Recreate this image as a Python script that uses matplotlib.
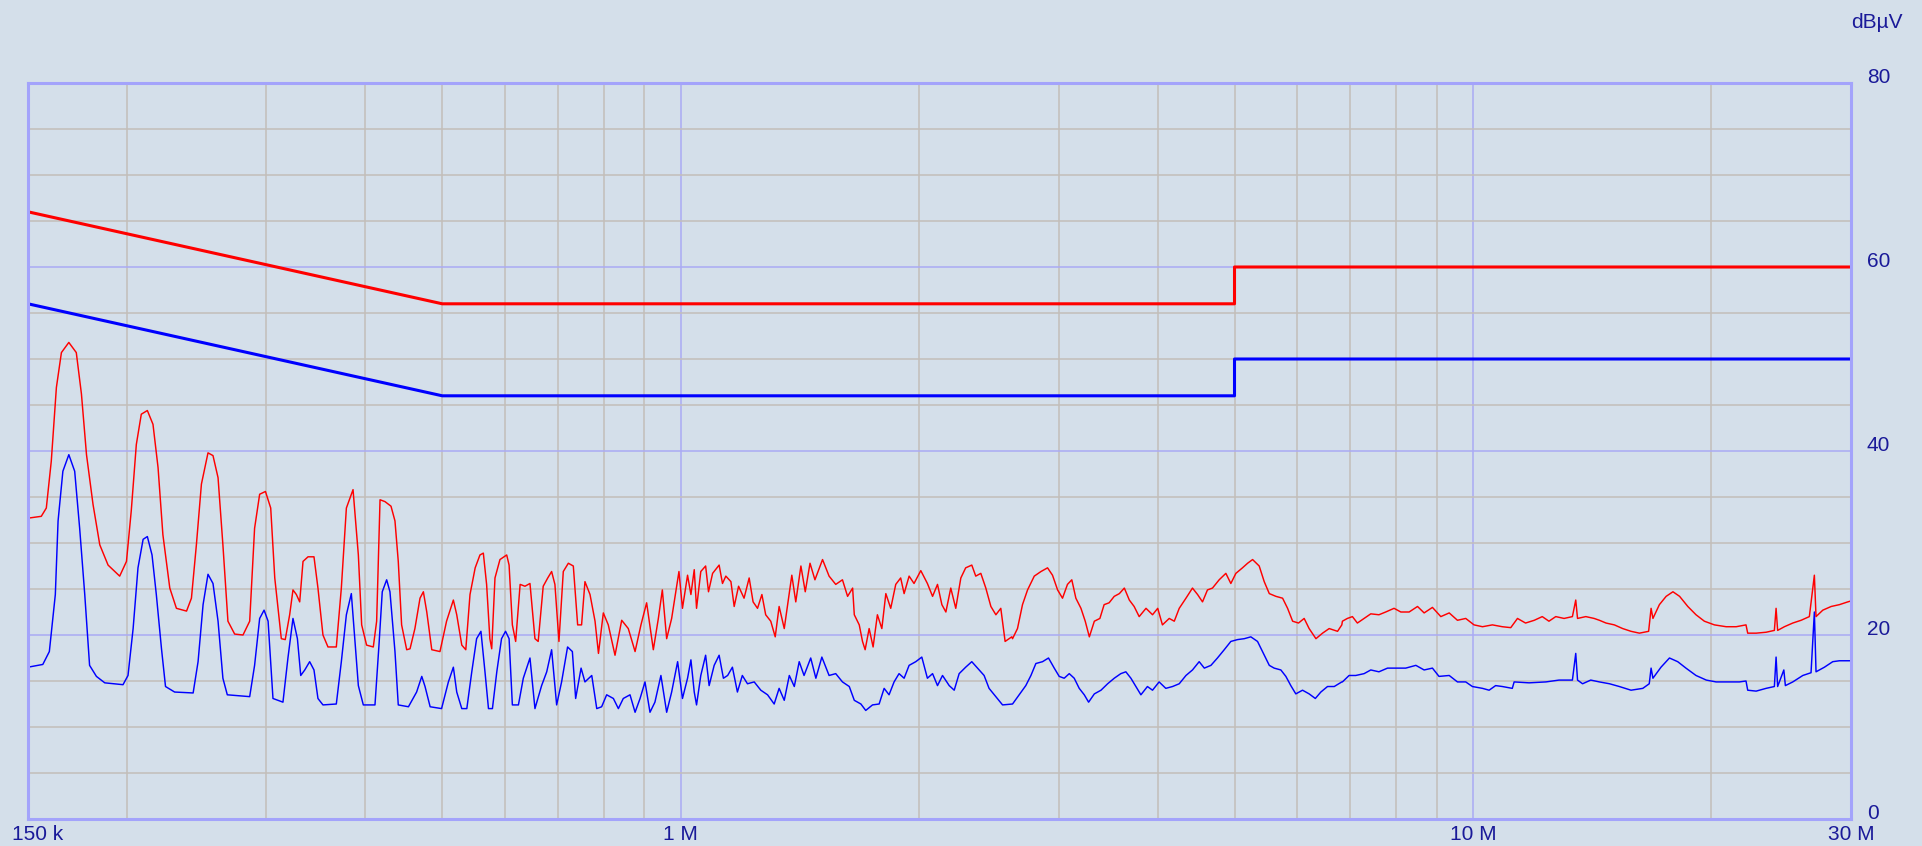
import matplotlib
matplotlib.use('Agg')
import matplotlib.pyplot as plt
import matplotlib.transforms as mtransforms

plt.rcParams['font.family'] = ['Liberation Sans', 'DejaVu Sans']

# limit lines (MHz / dBuV)
limit_freq = [0.15, 0.5, 5.0, 5.0, 30.0]
qp_limit = [66, 56, 56, 60, 60]
av_limit = [56, 46, 46, 50, 50]

# red trace (peak / QP)
peak_freq = [
    0.150, 0.1559, 0.1582, 0.1605, 0.1629, 0.1653, 0.1689, 0.1726, 0.1752, 0.1778,
    0.1812, 0.1848, 0.1893, 0.1958, 0.1997, 0.2025, 0.2055, 0.2085, 0.2122, 0.2157,
    0.2189, 0.2220, 0.2265, 0.2309, 0.2378, 0.2412, 0.2447, 0.2483, 0.2531, 0.2568,
    0.2606, 0.2643, 0.2682, 0.2735, 0.2802, 0.2857, 0.2898, 0.2941, 0.2991, 0.3037,
    0.3073, 0.3132, 0.3168, 0.3209, 0.3240, 0.3272, 0.3304, 0.3336, 0.3385, 0.3444,
    0.3484, 0.3535, 0.3587, 0.3675, 0.3729, 0.3784, 0.3858,
    0.3918, 0.3956, 0.4013, 0.4092, 0.4132, 0.4173, 0.4233, 0.4308, 0.4358, 0.4400,
    0.4443, 0.4509, 0.4553, 0.4618, 0.4687, 0.4733, 0.4780, 0.4850, 0.4967, 0.5063,
    0.5164, 0.5215, 0.5292, 0.5354, 0.5420, 0.5502, 0.5579, 0.5634, 0.5688, 0.5742,
    0.5773, 0.5828, 0.5913, 0.6030, 0.6072, 0.6130, 0.6189, 0.6270, 0.6359, 0.6452,
    0.6546, 0.6608, 0.6705, 0.6794, 0.6871, 0.6937, 0.7019, 0.7108, 0.7213, 0.7318,
    0.7411, 0.7496, 0.7570, 0.7682, 0.7795, 0.7873, 0.7985, 0.8101, 0.8261, 0.8423,
    0.8586, 0.8757, 0.8908, 0.9056, 0.9234, 0.9370, 0.9479, 0.9599, 0.9739, 0.9948,
    1.005, 1.020, 1.030, 1.040, 1.047, 1.060, 1.075, 1.084, 1.097, 1.118,
    1.129, 1.140, 1.157, 1.168, 1.183, 1.202, 1.220, 1.234, 1.250, 1.266,
    1.280, 1.299, 1.316, 1.331, 1.351, 1.368, 1.381, 1.397, 1.418, 1.436,
    1.456, 1.477, 1.510, 1.539, 1.569, 1.600, 1.624, 1.648, 1.656, 1.680,
    1.696, 1.709, 1.729, 1.749, 1.771, 1.794, 1.815, 1.841, 1.868, 1.895,
    1.914, 1.942, 1.970, 2.009, 2.048, 2.079, 2.109, 2.136, 2.161, 2.192,
    2.224, 2.257, 2.289, 2.330, 2.357, 2.392, 2.427, 2.463, 2.499, 2.535,
    2.567, 2.617,
    2.623, 2.661, 2.700, 2.740, 2.794, 2.849, 2.904, 2.946, 2.990, 3.033,
    3.077, 3.116, 3.153, 3.200, 3.240, 3.279, 3.327, 3.381, 3.423, 3.473,
    3.525, 3.578, 3.630, 3.683, 3.735, 3.790, 3.866, 3.940, 4.000, 4.055,
    4.136, 4.197, 4.258, 4.342, 4.425, 4.491, 4.556, 4.622, 4.690, 4.782,
    4.876, 4.947, 5.020, 5.117, 5.194, 5.270, 5.372, 5.451, 5.532, 5.640,
    5.750, 5.834, 5.920, 6.022, 6.122, 6.211, 6.335, 6.458, 6.584, 6.746,
    6.830,
    6.842, 6.941, 7.044, 7.146, 7.287, 7.430, 7.608, 7.759, 7.950, 8.108,
    8.306, 8.511, 8.676, 8.888, 9.107, 9.332, 9.558, 9.791, 10.03, 10.28,
    10.58, 10.89, 11.16, 11.38, 11.65, 11.95, 12.23, 12.47, 12.72, 13.03,
    13.35, 13.48, 13.55, 13.88, 14.22,
    14.44, 14.72, 15.08, 15.45, 15.83, 16.22, 16.66, 16.78, 16.87, 17.19,
    17.53, 17.88, 18.23, 18.67, 19.12, 19.59, 20.17, 20.87, 21.49, 22.11,
    22.22, 22.77, 23.44, 24.01, 24.13, 24.24, 24.72, 25.33, 25.95, 26.58,
    26.97, 27.10, 27.64, 28.32, 29.01, 29.72, 30.0,
]
peak_level = [
    32.7, 32.9, 33.8, 38.9, 46.9, 50.7, 51.8, 50.7, 46.2, 39.6,
    34.2, 29.8, 27.6, 26.4, 28.0, 33.5, 40.7, 44.0, 44.4, 42.9,
    38.2, 30.9, 25.1, 22.9, 22.6, 24.0, 29.8, 36.4, 39.8, 39.5,
    37.1, 29.8, 21.5, 20.1, 20.0, 21.5, 31.6, 35.3, 35.6, 33.8,
    26.2, 19.6, 19.5, 22.2, 24.9, 24.4, 23.6, 28.0, 28.5, 28.5,
    25.1, 20.0, 18.7, 18.7, 25.1, 33.8, 35.8,
    28.7, 21.1, 18.9, 18.7, 21.5, 34.7, 34.5, 34.0, 32.4, 28.0,
    21.1, 18.4, 18.5, 20.7, 24.0, 24.7, 22.5, 18.4, 18.2, 21.5,
    23.8, 22.2, 18.9, 18.4, 24.4, 27.3, 28.7, 28.9, 25.5, 19.6,
    18.5, 26.2, 28.2, 28.7, 27.6, 21.1, 19.3, 25.5, 25.3, 25.6,
    19.6, 19.3, 25.3, 26.2, 26.9, 25.5, 19.3, 26.9, 27.8, 27.5,
    21.1, 21.1, 25.8, 24.4, 21.5, 18.0, 22.4, 21.1, 17.8, 21.6,
    20.7, 18.2, 21.1, 23.5, 18.4, 21.8, 24.9, 19.6, 21.8, 26.9,
    22.9, 26.5, 24.4, 27.1, 22.9, 26.9, 27.5, 24.7, 26.7, 27.6,
    25.6, 26.4, 25.8, 23.1, 25.3, 24.0, 26.2, 23.6, 22.9, 24.4,
    22.2, 21.5, 19.8, 23.1, 20.7, 24.0, 26.5, 23.6, 27.5, 24.7,
    27.8, 26.0, 28.2, 26.4, 25.5, 26.0, 24.2, 25.1, 22.2, 21.1,
    19.3, 18.4, 20.7, 18.7, 22.2, 20.7, 24.5, 22.9, 25.5, 26.2,
    24.5, 26.4, 25.6, 27.0, 25.6, 24.2, 25.5, 23.3, 22.5, 25.1,
    22.9, 26.2, 27.3, 27.6, 26.4, 26.7, 25.1, 23.1, 22.2, 22.9,
    19.3, 19.8,
    19.6, 20.7, 23.3, 24.9, 26.4, 26.9, 27.3, 26.5, 24.9, 24.0,
    25.5, 26.0, 24.0, 22.9, 21.5, 19.8, 21.5, 21.8, 23.3, 23.5,
    24.2, 24.5, 25.1, 23.8, 23.1, 22.0, 22.9, 22.2, 22.9, 21.1,
    21.8, 21.5, 22.9, 24.0, 25.1, 24.4, 23.6, 24.9, 25.1, 26.0,
    26.7, 25.6, 26.7, 27.3, 27.8, 28.2, 27.5, 25.8, 24.5, 24.2,
    24.0, 22.9, 21.5, 21.3, 21.8, 20.7, 19.6, 20.2, 20.7, 20.4,
    21.1,
    21.5, 21.8, 22.0, 21.3, 21.8, 22.3, 22.2, 22.5, 22.9, 22.5,
    22.5, 23.1, 22.4, 23.0, 22.0, 22.4, 21.6, 21.8, 21.1, 20.9,
    21.1, 20.9, 20.8, 21.8, 21.3, 21.6, 22.0, 21.5, 22.0, 21.8,
    22.0, 23.8, 21.8, 22.0, 21.8,
    21.6, 21.3, 21.1, 20.7, 20.4, 20.2, 20.4, 22.9, 21.8, 23.3,
    24.2, 24.7, 24.2, 23.1, 22.2, 21.5, 21.1, 20.9, 20.9, 21.1,
    20.2, 20.2, 20.3, 20.5, 22.9, 20.5, 20.9, 21.3, 21.6, 22.0,
    26.5, 22.0, 22.7, 23.1, 23.3, 23.6, 23.7,
]

# blue trace (average)
avg_freq = [
    0.150, 0.1566, 0.1596, 0.1624, 0.1637, 0.1660, 0.1689, 0.1718, 0.1743, 0.1769,
    0.1794, 0.1830, 0.1875, 0.1977, 0.2006, 0.2036, 0.2065, 0.2096, 0.2122, 0.2151,
    0.2178, 0.2211, 0.2237, 0.2297, 0.2424, 0.2459, 0.2495, 0.2531, 0.2568, 0.2606,
    0.2643, 0.2677, 0.2857, 0.2898, 0.2941, 0.2979, 0.3014, 0.3057, 0.3147, 0.3193,
    0.3240, 0.3282, 0.3314, 0.3353, 0.3401, 0.3444, 0.3484, 0.3535, 0.3675, 0.3729,
    0.3784, 0.3839,
    0.3918, 0.3975, 0.4112, 0.4160, 0.4200, 0.4254, 0.4295, 0.4358, 0.4400, 0.4532,
    0.4641, 0.4711, 0.4756, 0.4827, 0.4990, 0.5090, 0.5164, 0.5215, 0.5292, 0.5370,
    0.5448, 0.5525, 0.5595, 0.5661, 0.5719, 0.5785, 0.5859, 0.5940, 0.6010, 0.6072,
    0.6130, 0.6239, 0.6328, 0.6452, 0.6546, 0.6674, 0.6774, 0.6871, 0.6972, 0.7073,
    0.7197, 0.7298, 0.7368, 0.7485, 0.7570, 0.7721, 0.7834, 0.7946, 0.8063, 0.8222,
    0.8342, 0.8462, 0.8629, 0.8757, 0.8885, 0.9013, 0.9145, 0.9277, 0.9440, 0.9599,
    0.9739, 0.9910,
    1.005, 1.020, 1.030, 1.040, 1.047, 1.060, 1.075, 1.086, 1.102, 1.118,
    1.132, 1.146, 1.162, 1.179, 1.196, 1.214, 1.238, 1.262, 1.287, 1.312,
    1.331, 1.351, 1.371, 1.391, 1.411, 1.431, 1.459, 1.481, 1.507, 1.539,
    1.569, 1.600, 1.632, 1.656, 1.688, 1.712, 1.746, 1.780, 1.806, 1.832,
    1.859, 1.886, 1.914, 1.942, 1.980, 2.015, 2.048, 2.079, 2.109, 2.140,
    2.182, 2.214, 2.246, 2.289, 2.330, 2.369, 2.415, 2.450, 2.499, 2.548,
    2.617,
    2.623, 2.674, 2.726, 2.767, 2.807, 2.862, 2.912, 2.961, 3.004, 3.048,
    3.093, 3.138, 3.184, 3.231, 3.272, 3.327, 3.392, 3.458, 3.525, 3.593,
    3.646, 3.700, 3.754, 3.809, 3.882, 3.940, 4.016, 4.095, 4.176, 4.258,
    4.342, 4.425, 4.512, 4.580, 4.669, 4.758, 4.853, 4.947, 5.044, 5.144,
    5.243, 5.346, 5.424, 5.532, 5.611, 5.721, 5.805, 5.889, 5.975, 6.093,
    6.211, 6.324, 6.426, 6.552, 6.681, 6.830,
    6.842, 6.976, 7.112, 7.287, 7.430, 7.608, 7.800, 7.991, 8.224, 8.470,
    8.676, 8.888, 9.059, 9.332, 9.558, 9.791, 9.982, 10.28, 10.48, 10.68,
    10.89, 11.21, 11.27, 11.77, 12.36, 12.84, 13.35, 13.48, 13.55, 13.75,
    14.08,
    14.44, 14.87, 15.30, 15.83, 16.38, 16.69, 16.78, 16.87, 17.27, 17.70,
    18.13, 18.57, 19.12, 19.70, 20.27, 20.87, 21.69, 22.11, 22.22, 22.77,
    23.44, 24.01, 24.13, 24.24, 24.68, 24.79, 25.33, 26.08, 26.71, 26.97,
    27.10, 27.77, 28.45, 29.01, 29.72, 30.0,
]
avg_level = [
    16.5, 16.8, 18.2, 24.4, 32.4, 37.8, 39.6, 37.8, 31.6, 24.4,
    16.7, 15.5, 14.8, 14.6, 15.6, 20.7, 27.3, 30.4, 30.7, 28.7,
    24.4, 18.5, 14.4, 13.8, 13.7, 17.1, 23.3, 26.6, 25.6, 21.5,
    15.3, 13.5, 13.3, 16.7, 21.8, 22.7, 21.5, 13.1, 12.7, 17.5,
    21.8, 19.6, 15.6, 16.2, 17.1, 16.2, 13.1, 12.4, 12.5, 17.1,
    22.2, 24.5,
    14.5, 12.4, 12.4, 18.9, 24.7, 26.0, 24.7, 18.2, 12.4, 12.2,
    13.8, 15.5, 14.4, 12.2, 12.0, 14.9, 16.5, 13.8, 12.0, 12.0,
    16.0, 19.6, 20.4, 16.0, 12.0, 12.0, 16.0, 19.6, 20.4, 19.6,
    12.4, 12.4, 15.3, 17.5, 12.0, 14.5, 16.0, 18.4, 12.4, 14.9,
    18.7, 18.2, 13.1, 16.4, 14.9, 15.6, 12.0, 12.2, 13.5, 13.1,
    12.0, 13.1, 13.5, 11.6, 13.1, 14.9, 11.6, 12.7, 15.6, 11.6,
    13.8, 17.1,
    13.1, 15.3, 17.3, 13.8, 12.4, 15.6, 17.8, 14.5, 16.7, 17.8,
    15.3, 15.6, 16.5, 13.8, 15.6, 14.7, 14.9, 14.0, 13.5, 12.5,
    14.2, 12.9, 15.6, 14.4, 17.1, 15.6, 17.5, 15.3, 17.6, 15.6,
    15.8, 14.9, 14.4, 12.9, 12.5, 11.8, 12.4, 12.5, 14.2, 13.5,
    14.9, 15.8, 15.3, 16.7, 17.1, 17.6, 15.3, 15.8, 14.5, 15.6,
    14.5, 14.0, 15.8, 16.5, 17.1, 16.4, 15.6, 14.2, 13.3, 12.4,
    12.5,
    12.5, 13.5, 14.5, 15.6, 16.9, 17.1, 17.5, 16.4, 15.5, 15.3,
    15.8, 15.3, 14.2, 13.5, 12.7, 13.6, 14.0, 14.7, 15.3, 15.8,
    16.0, 15.3, 14.4, 13.5, 14.4, 14.0, 14.9, 14.2, 14.4, 14.7,
    15.6, 16.2, 17.1, 16.4, 16.7, 17.5, 18.4, 19.3, 19.5, 19.6,
    19.8, 19.3, 18.2, 16.7, 16.4, 16.2, 15.5, 14.5, 13.6, 14.0,
    13.6, 13.1, 13.8, 14.4, 14.4, 14.9,
    14.9, 15.6, 15.6, 15.8, 16.2, 16.0, 16.4, 16.4, 16.4, 16.7,
    16.2, 16.4, 15.5, 15.6, 14.9, 14.9, 14.4, 14.2, 14.0, 14.5,
    14.4, 14.2, 14.9, 14.8, 14.9, 15.1, 15.1, 18.0, 15.1, 14.7,
    15.1,
    14.9, 14.7, 14.4, 14.0, 14.2, 14.7, 16.4, 15.3, 16.5, 17.5,
    17.1, 16.4, 15.6, 15.1, 14.9, 14.9, 14.9, 15.0, 14.0, 13.9,
    14.2, 14.4, 17.6, 14.4, 16.2, 14.5, 14.9, 15.6, 15.9, 22.5,
    16.0, 16.5, 17.1, 17.2, 17.2, 17.2,
]

x_ticks = [0.15, 1, 10, 30]
x_labels = ['150 k', '1 M', '10 M', '30 M']
x_minor = [0.2, 0.3, 0.4, 0.5, 0.6, 0.7, 0.8, 0.9,
           2, 3, 4, 5, 6, 7, 8, 9, 20]
y_ticks = [0, 20, 40, 60, 80]
y_minor = [5, 10, 15, 25, 30, 35, 45, 50, 55, 65, 70, 75]

bg = '#d4dfea'
txt = '#1a1a99'

fig = plt.figure(figsize=(19.22, 8.46), dpi=100, facecolor=bg)
ax = fig.add_axes([28 / 1922, 1 - 819 / 846, 1823 / 1922, 736 / 846])
ax.set_facecolor(bg)

ax.set_xscale('log')
ax.set_xlim(0.15, 30)
ax.set_ylim(0, 80)

ax.set_xticks(x_ticks)
ax.set_xticklabels(x_labels)
ax.set_xticks(x_minor, minor=True)
ax.set_xticklabels([], minor=True)
ax.set_yticks(y_ticks)
ax.set_yticks(y_minor, minor=True)
ax.yaxis.tick_right()

ax.grid(which='minor', color='#c3beb9', lw=1.1)
ax.grid(which='major', color='#aaaaf4', lw=1.1)
ax.set_axisbelow(True)

ax.tick_params(which='both', length=0)
ax.tick_params(axis='x', which='major', pad=4.5, labelsize=15, labelcolor=txt)
ax.tick_params(axis='y', which='major', pad=11.5, labelsize=15, labelcolor=txt)
for lab in ax.get_yticklabels():
    lab.set_va('baseline')

# first x label sits a bit right of the left border
first = ax.get_xticklabels()[0]
first.set_transform(first.get_transform() +
                    mtransforms.ScaledTranslation(10 / 100, 0, fig.dpi_scale_trans))

for s in ax.spines.values():
    s.set_color('#a3a3fb')
    s.set_linewidth(2.2)

ax.plot(avg_freq, avg_level, color='#0000ff', lw=1.05)
ax.plot(peak_freq, peak_level, color='#ff0000', lw=1.05)
ax.plot(limit_freq, av_limit, color='#0000ff', lw=2.2)
ax.plot(limit_freq, qp_limit, color='#ff0000', lw=2.2)

fig.text(1877 / 1922, 1 - 23 / 846, 'dBµV', color=txt, fontsize=15,
         ha='center', va='center')

fig.savefig('out.png', dpi=100, facecolor=bg)
